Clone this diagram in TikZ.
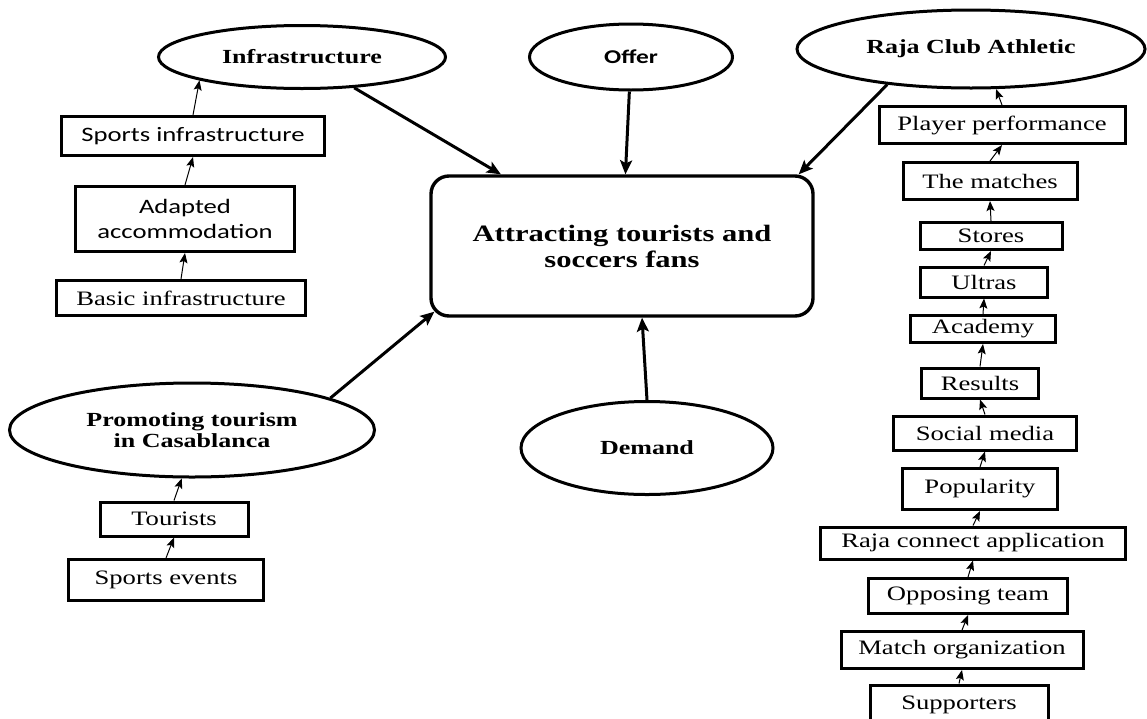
\documentclass[tikz,border=0pt]{standalone}
\usepackage{fontspec}
\setmainfont{Liberation Serif}[FakeStretch=1.3]
\newfontfamily\calfont{Carlito}[FakeStretch=1.3]
\usetikzlibrary{arrows.meta,shapes.geometric}

\begin{document}
\begin{tikzpicture}[x=1pt, y=-1pt, semithick]
  \tikzstyle{every node}=[align=center]
  \tikzstyle{oval}=[ellipse, draw, line width=3pt, inner sep=0pt, font=\fontsize{20}{21}\selectfont\bfseries]
  \tikzstyle{box}=[rectangle, draw, line width=3pt, inner sep=0pt, font=\fontsize{20.5}{25}\selectfont]
  \tikzstyle{sbox}=[box, font=\calfont\fontsize{20.5}{25}\selectfont]
  \tikzstyle{bigarrow}=[line width=3pt, -{Stealth[length=14pt,width=12pt,inset=3pt]}]
  \tikzstyle{link}=[line width=1pt, -{Stealth[length=10pt,width=8pt,inset=2pt]}]

  \useasboundingbox (0,0) rectangle (1147,718);

  % main goal and the five themes
  \node[draw, rounded corners=18pt, line width=3.4pt, minimum width=382, minimum height=140,
        font=\fontsize{23.5}{26}\selectfont\bfseries] (goal) at (622,246) {Attracting tourists and\\soccers fans};
  \node[oval, minimum width=287, minimum height=63] (infra)  at (302,57)  {Infrastructure};
  \node[oval, minimum width=203, minimum height=66,
        font=\calfont\bfseries\fontsize{19.5}{21}\selectfont] (offer) at (631,57) {Offer};
  \node[oval, minimum width=348, minimum height=78] (raja)   at (971,49)  {Raja Club Athletic};
  \node[oval, minimum width=252, minimum height=93] (demand) at (647,448) {Demand};
  \node[oval, minimum width=365, minimum height=94] (promo)  at (192,430) {Promoting tourism\\in Casablanca};

  % left side
  \node[sbox, minimum width=263, minimum height=39] (sinfra) at (193,136) {Sports infrastructure};
  \node[sbox, minimum width=219, minimum height=65] (adapt)  at (185,219) {Adapted\\accommodation};
  \node[box,  minimum width=249, minimum height=35] (basic)  at (181,298) {Basic infrastructure};
  \node[box,  minimum width=148, minimum height=34] (tour)   at (174,519) {Tourists};
  \node[box,  minimum width=195, minimum height=41] (events) at (166,580) {Sports events};

  % right side
  \node[box, minimum width=246, minimum height=37] (perf)    at (1002,125) {Player performance};
  \node[box, minimum width=174, minimum height=37] (matches) at (990,181)  {The matches};
  \node[box, minimum width=142, minimum height=27] (stores)  at (991,236)  {Stores};
  \node[box, minimum width=127, minimum height=30] (ultras)  at (984,282)  {Ultras};
  \node[box, minimum width=145, minimum height=27] (acad)    at (983,329)  {Academy};
  \node[box, minimum width=117, minimum height=30] (results) at (980,383)  {Results};
  \node[box, minimum width=183, minimum height=34] (social)  at (985,433)  {Social media};
  \node[box, minimum width=155, minimum height=41] (pop)     at (980,489)  {Popularity};
  \node[box, minimum width=305, minimum height=32] (app)     at (973,543)  {Raja connect application};
  \node[box, minimum width=199, minimum height=35] (opp)     at (968,596)  {Opposing team};
  \node[box, minimum width=242, minimum height=37] (org)     at (962,650)  {Match organization};
  \node[box, minimum width=178, minimum height=40] (supp)    at (959,705)  {Supporters};

  \draw[bigarrow] (infra) -- (goal);
  \draw[bigarrow] (offer) -- (goal);
  \draw[bigarrow] (raja.203) -- ([xshift=-16pt]goal.north east);
  \draw[bigarrow] (promo.13) -- ([xshift=5pt,yshift=6pt]goal.south west);
  \draw[bigarrow] (demand.north) -- ([xshift=20pt]goal.south);

  \draw[link] (basic.north) -- (adapt.south);
  \draw[link] (adapt.north) -- (sinfra.south);
  \draw[link] (sinfra.north) -- (infra.south west);
  \draw[link] (events.north) -- (tour.south);
  \draw[link] (tour.north) -- (promo.258);

  \draw[link] (supp.north) -- (org.south);
  \draw[link] (org.north) -- (opp.south);
  \draw[link] (opp.north) -- (app.south);
  \draw[link] (app.north) -- (pop.south);
  \draw[link] (pop.north) -- (social.south);
  \draw[link] (social.north) -- (results.south);
  \draw[link] (results.north) -- (acad.south);
  \draw[link] (acad.north) -- (ultras.south);
  \draw[link] (ultras.north) -- (stores.south);
  \draw[link] (stores.north) -- (matches.south);
  \draw[link] (matches.north) -- (perf.south);
  \draw[link] (perf.north) -- (raja.302);
\end{tikzpicture}
\end{document}
